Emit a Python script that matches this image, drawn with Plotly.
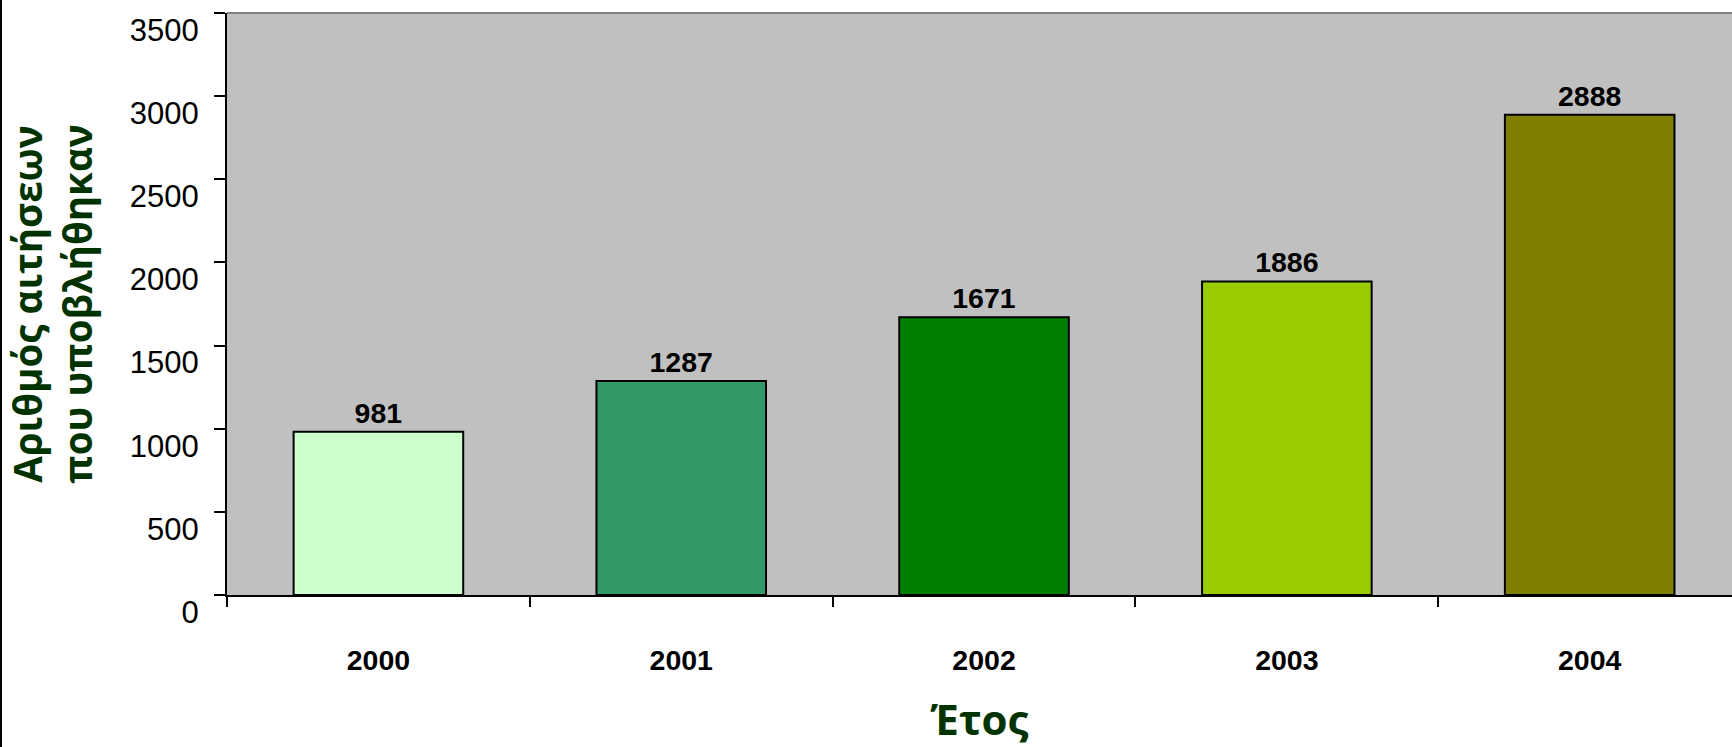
import plotly.graph_objects as go

# ---- data ----
years = ["2000", "2001", "2002", "2003", "2004"]
applications = [981, 1287, 1671, 1886, 2888]
bar_colors = ["#CCFFCC", "#339966", "#008000", "#99CC00", "#808000"]
y_tick_values = [0, 500, 1000, 1500, 2000, 2500, 3000, 3500]
y_tick_labels = [str(v) for v in y_tick_values]
x_title = "Έτος"
y_title = "Αριθμός αιτήσεων<br>που υποβλήθηκαν"

# ---- style ----
W, H = 1732, 747
ML, MR, MT, MB = 227, 0, 13, 152
title_color = "#003300"
title_font = "Open Sans, Noto Sans, DejaVu Sans, sans-serif"
num_font = "Liberation Sans, Arial, sans-serif"

fig = go.Figure(
    go.Bar(
        x=years,
        y=applications,
        width=0.56,
        marker=dict(color=bar_colors, line=dict(color="black", width=2)),
        text=[str(v) for v in applications],
        textposition="outside",
        textfont=dict(family=num_font, size=28.5, color="black", weight="bold"),
        cliponaxis=False,
        hoverinfo="x+y",
    )
)

fig.update_layout(
    width=W,
    height=H,
    margin=dict(l=ML, r=MR, t=MT, b=MB, pad=0),
    paper_bgcolor="white",
    plot_bgcolor="#C0C0C0",
    showlegend=False,
)

fig.update_xaxes(
    type="category",
    range=[-0.5, 4.47],
    tickson="boundaries",
    ticks="outside",
    ticklen=10,
    tickwidth=1.5,
    tickcolor="black",
    showline=True,
    linecolor="black",
    linewidth=2,
    showgrid=False,
    zeroline=False,
    tickfont=dict(family=num_font, size=28.5, color="black", weight="bold"),
    ticklabelstandoff=39,
    title=dict(
        text=x_title,
        font=dict(family=title_font, size=42, color=title_color, weight="bold"),
        standoff=32,
    ),
)

fig.update_yaxes(
    range=[0, 3500],
    tickmode="array",
    tickvals=y_tick_values,
    ticktext=y_tick_labels,
    ticks="outside",
    ticklen=11,
    tickwidth=1.5,
    tickcolor="black",
    showline=True,
    linecolor="black",
    linewidth=2,
    showgrid=False,
    zeroline=False,
    tickfont=dict(family=num_font, size=31, color="black"),
    ticklabelshift=17,
    ticklabelstandoff=9,
    title=dict(
        text=y_title,
        font=dict(family=title_font, size=38.5, color=title_color, weight="bold"),
        standoff=25,
    ),
)

plot_w = W - ML - MR
plot_h = H - MT - MB
fig.add_shape(type="line", xref="paper", yref="paper", x0=0, x1=1, y0=1, y1=1,
              line=dict(color="#808080", width=2), layer="above")
fig.add_shape(type="line", xref="paper", yref="paper",
              x0=-(ML - 1) / plot_w, x1=-(ML - 1) / plot_w,
              y0=-MB / plot_h, y1=1 + MT / plot_h,
              line=dict(color="black", width=2), layer="above")

fig.write_html("out.html", config={"displayModeBar": False},
               post_script="document.body.style.margin='0';")
